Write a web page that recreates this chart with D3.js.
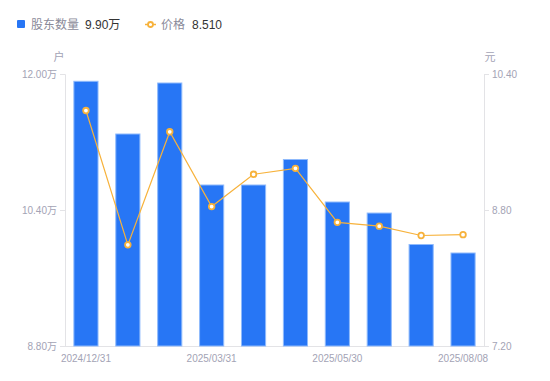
<!DOCTYPE html>
<html><head><meta charset="utf-8">
<script src="https://cdn.jsdelivr.net/npm/d3@7/dist/d3.min.js"></script>
<style>body{margin:0;background:#fff}svg{display:block;font-family:"Liberation Sans","Noto Sans CJK SC",sans-serif}</style>
</head><body><svg id="c" width="550" height="381"></svg>
<script>
const categories = ["2024/12/31","2025/01/20","2025/02/28","2025/03/31","2025/04/10","2025/04/30","2025/05/30","2025/06/30","2025/07/18","2025/08/08"];
const holders = [11.92, 11.30, 11.90, 10.70, 10.70, 11.00, 10.50, 10.37, 10.00, 9.90];
const price = [9.97, 8.39, 9.72, 8.84, 9.22, 9.29, 8.655, 8.61, 8.50, 8.51];
const leftTicks = [8.80, 10.40, 12.00];
const rightTicks = [7.20, 8.80, 10.40];
const xLabels = ["2024/12/31","2025/03/31","2025/05/30","2025/08/08"];

const svg = d3.select("#c");
const L = 65, R = 484, T = 74, B = 346;
const x = d3.scaleBand().domain(categories).range([L, R]).paddingInner(0.4).paddingOuter(0.2);
const yL = d3.scaleLinear().domain([8.8, 12.0]).range([B, T]);
const yR = d3.scaleLinear().domain([7.2, 10.4]).range([B, T]);
const axisCol = "#e3e3e6", txtCol = "#a3a3b5";

// axes
const gl = svg.append("g").attr("transform", `translate(${L},0)`)
  .call(d3.axisLeft(yL).tickValues(leftTicks).tickSize(5).tickPadding(3).tickFormat(d => d3.format(".2f")(d) + "万"));
const gr = svg.append("g").attr("transform", `translate(${R},0)`)
  .call(d3.axisRight(yR).tickValues(rightTicks).tickSize(5).tickPadding(3).tickFormat(d3.format(".2f")));
const gb = svg.append("g").attr("transform", `translate(0,${B})`)
  .call(d3.axisBottom(x).tickValues(xLabels).tickSize(0).tickPadding(9));
[gl, gr, gb].forEach(g => {
  g.selectAll("path").attr("stroke", axisCol);
  g.selectAll("line").attr("stroke", axisCol);
  g.selectAll("text").attr("fill", txtCol).attr("font-size", 10).attr("font-family", "Liberation Sans, Noto Sans CJK SC, sans-serif");
});
gb.select("path").attr("d", `M${L},0.5H${R}`);

// units
svg.append("text").attr("x", 59).attr("y", 61).attr("text-anchor", "middle").attr("font-size", 11).attr("fill", txtCol).text("户");
svg.append("text").attr("x", 490).attr("y", 61).attr("text-anchor", "middle").attr("font-size", 11).attr("fill", txtCol).text("元");

// bars
svg.append("g").selectAll("rect").data(holders).join("rect")
  .attr("x", (d, i) => x(categories[i]) + 0.5)
  .attr("y", d => yL(d) + 0.5)
  .attr("width", x.bandwidth() - 1)
  .attr("height", d => B - yL(d) - 0.5)
  .attr("fill", "#2776f5").attr("stroke", "#8fbafc").attr("stroke-width", 1);

// line
const orange = "#f7b23b";
const line = d3.line().x((d, i) => x(categories[i]) + x.bandwidth() / 2).y(d => yR(d));
svg.append("path").datum(price).attr("d", line).attr("fill", "none").attr("stroke", orange).attr("stroke-width", 1.2);
svg.append("g").selectAll("circle").data(price).join("circle")
  .attr("cx", (d, i) => x(categories[i]) + x.bandwidth() / 2)
  .attr("cy", d => yR(d)).attr("r", 2.8)
  .attr("fill", "#fff").attr("stroke", orange).attr("stroke-width", 1.8);

// legend
const lg = svg.append("g").attr("font-size", 12);
lg.append("rect").attr("x", 17).attr("y", 20).attr("width", 8).attr("height", 8).attr("rx", 1).attr("fill", "#2776f5");
lg.append("text").attr("x", 31).attr("y", 29).attr("fill", "#8a8a99").text("股东数量");
lg.append("text").attr("x", 85).attr("y", 29).attr("fill", "#333").text(holders[holders.length - 1].toFixed(2) + "万");
lg.append("line").attr("x1", 145).attr("x2", 156).attr("y1", 24.5).attr("y2", 24.5).attr("stroke", orange).attr("stroke-width", 1.5);
lg.append("circle").attr("cx", 150.5).attr("cy", 24.5).attr("r", 2.5).attr("fill", "#fff").attr("stroke", orange).attr("stroke-width", 1.8);
lg.append("text").attr("x", 161).attr("y", 29).attr("fill", "#8a8a99").text("价格");
lg.append("text").attr("x", 192).attr("y", 29).attr("fill", "#333").text(price[price.length - 1].toFixed(3));
</script></body></html>
